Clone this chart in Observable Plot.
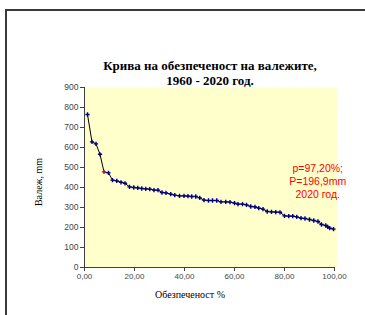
<!DOCTYPE html>
<html><head><meta charset="utf-8">
<script src="https://cdn.jsdelivr.net/npm/d3@7"></script>
<script src="https://cdn.jsdelivr.net/npm/@observablehq/plot@0.6"></script>
<style>
body{margin:0;background:#fff}
#wrap{position:relative;width:365px;height:315px;overflow:hidden}
#border{position:absolute;left:5px;top:9px;width:400px;height:400px;border-top:2px solid #3a3a3a;border-left:2px solid #3a3a3a}
#wrap svg{position:absolute;left:0;top:0}
</style></head>
<body><div id="wrap"><div id="border"></div></div>
<script>
const prob = [1.2,3.0,4.6,6.2,7.8,9.6,11.2,12.9,14.6,16.2,
  18.0,19.7,21.3,22.9,24.5,26.1,27.8,29.4,31.0,32.6,
  34.5,36.1,38.0,39.8,41.4,42.9,44.5,46.1,47.8,49.6,
  51.2,52.9,54.6,56.5,58.2,60.0,61.4,63.2,64.8,66.5,
  68.2,69.7,71.4,73.1,74.8,76.5,78.2,80.0,81.7,83.3,
  84.9,86.6,88.2,90.0,91.7,93.4,94.8,96.5,97.3,98.1,99.6];
const precip = [765,628,618,566,478,473,437,433,426,421,
  403,400,398,395,393,392,387,387,375,373,
  367,362,358,358,357,355,355,348,337,335,
  335,335,328,328,327,322,317,317,313,305,
  303,297,292,280,278,277,276,258,257,257,
  253,247,245,240,235,230,215,210,203,197,192];
const highlightIndex = [4];
const yTicks = [0,100,200,300,400,500,600,700,800,900];
const xTicks = [0,20,40,60,80,100];
const titleLines = ["Крива на обезпеченост на валежите,", "1960 - 2020 год."];
const xLabel = "Обезпеченост %";
const yLabel = "Валеж, mm";
const annLines = ["p=97,20%;", "P=196,9mm", "2020 год."];
const annX = [93.3, 93.3, 93.3];
const annY = [495, 430, 365];

const data = prob.map((p, i) => ({p, v: precip[i], hl: highlightIndex.includes(i)}));
const ann = annLines.map((t, i) => ({t, x: annX[i], y: annY[i]}));

const plot = Plot.plot({
  width: 365, height: 315,
  marginLeft: 84, marginRight: 31, marginTop: 87, marginBottom: 48,
  x: {domain: [0, 100]},
  y: {domain: [0, 900]},
  color: {type: "identity"},
  style: {background: "transparent", fontFamily: "'Liberation Sans', Arial, sans-serif"},
  marks: [
    Plot.frame({fill: "#FFFFCC", stroke: null, insetRight: -2.5}),
    Plot.axisY({ticks: yTicks, tickSize: 4, fontSize: 8.5, tickFormat: d => String(d), label: null, stroke: "#404040", fill: "#444", tickPadding: 2}),
    Plot.axisX({ticks: xTicks, tickSize: 4, fontSize: 8, tickFormat: d => d.toFixed(2).replace(".", ","), label: null, stroke: "#404040", fill: "#444", tickPadding: 2}),
    Plot.ruleX([0], {stroke: "#404040"}),
    Plot.ruleY([0], {stroke: "#404040"}),
    Plot.line(data, {x: "p", y: "v", stroke: "#000", strokeWidth: 1}),
    Plot.dot(data, {x: "p", y: "v", symbol: "cross", r: 1.8, fill: d => d.hl ? "#b01030" : "#000080", stroke: null}),
    Plot.text(ann, {x: "x", y: "y", text: "t", fill: "#ff0000", fontSize: 10.5, fontFamily: "'Liberation Sans', Arial, sans-serif"})
  ]
});
document.getElementById("wrap").appendChild(plot);

const svg = d3.select(plot);
svg.append("text").attr("x", 210).attr("y", 70).attr("text-anchor", "middle")
  .attr("font-family", "'Liberation Serif', 'Times New Roman', serif").attr("font-weight", "bold")
  .attr("font-size", 13).attr("fill", "#000").text(titleLines[0]);
svg.append("text").attr("x", 210).attr("y", 85).attr("text-anchor", "middle")
  .attr("font-family", "'Liberation Serif', 'Times New Roman', serif").attr("font-weight", "bold")
  .attr("font-size", 13).attr("fill", "#000").text(titleLines[1]);
svg.append("text").attr("x", 190).attr("y", 298).attr("text-anchor", "middle")
  .attr("font-family", "'Liberation Serif', 'Times New Roman', serif")
  .attr("font-size", 10).attr("fill", "#000").text(xLabel);
svg.append("text").attr("transform", "translate(42,182) rotate(-90)").attr("text-anchor", "middle")
  .attr("font-family", "'Liberation Serif', 'Times New Roman', serif")
  .attr("font-size", 10).attr("fill", "#000").text(yLabel);
</script>
</body></html>
